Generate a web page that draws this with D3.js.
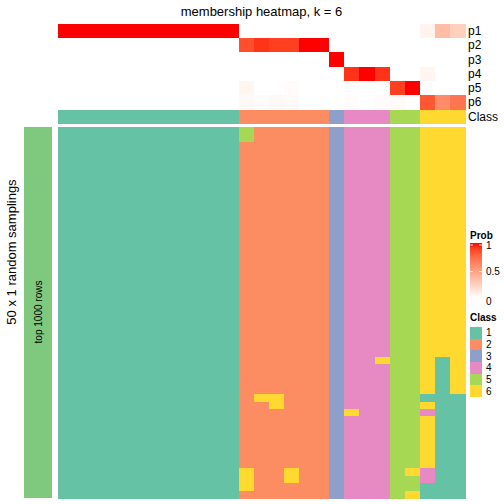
<!DOCTYPE html>
<html><head><meta charset="utf-8">
<script src="https://cdn.jsdelivr.net/npm/d3@7"></script>
<style>body{margin:0;background:#fff}svg{display:block;font-family:"Liberation Sans",Arial,sans-serif}rect{shape-rendering:crispEdges}</style>
</head><body><svg id="c" width="504" height="504"></svg>
<script>
// ---- data ----
const title = "membership heatmap, k = 6";
const probRows = ["p1","p2","p3","p4","p5","p6"];
const colClass = [1,1,1,1,1,1,1,1,1,1,1,1, 2,2,2,2,2,2, 3, 4,4,4, 5,5, 6,6,6];
const p1 = [1,1,1,1,1,1,1,1,1,1,1,1, 0,0,0,0,0,0, 0, 0,0,0, 0,0, 0.06,0.35,0.25];
const p2 = [0,0,0,0,0,0,0,0,0,0,0,0, 0.85,0.93,0.9,0.9,1,1, 0, 0,0,0, 0,0, 0,0,0];
const p3 = [0,0,0,0,0,0,0,0,0,0,0,0, 0,0,0,0,0,0, 1, 0,0,0, 0,0, 0,0,0];
const p4 = [0,0,0,0,0,0,0,0,0,0,0,0, 0,0,0,0,0,0, 0, 0.93,1,0.93, 0,0, 0.05,0,0];
const p5 = [0,0,0,0,0,0,0,0,0,0,0,0, 0.05,0,0,0.02,0,0, 0, 0,0,0, 0.9,1, 0,0,0];
const p6 = [0,0,0,0,0,0,0,0,0,0,0,0, 0.04,0.02,0.04,0.03,0,0, 0, 0.01,0,0.02, 0.03,0, 0.82,0.6,0.7];
const probs = [p1,p2,p3,p4,p5,p6];
// 50 random samplings x 27 samples (class label per cell)
const samplings = [
"111111111111522222344455666","111111111111522222344455666",
"111111111111222222344455666","111111111111222222344455666","111111111111222222344455666",
"111111111111222222344455666","111111111111222222344455666","111111111111222222344455666",
"111111111111222222344455666","111111111111222222344455666","111111111111222222344455666",
"111111111111222222344455666","111111111111222222344455666","111111111111222222344455666",
"111111111111222222344455666","111111111111222222344455666","111111111111222222344455666",
"111111111111222222344455666","111111111111222222344455666","111111111111222222344455666",
"111111111111222222344455666","111111111111222222344455666","111111111111222222344455666",
"111111111111222222344455666","111111111111222222344455666","111111111111222222344455666",
"111111111111222222344455666","111111111111222222344455666","111111111111222222344455666",
"111111111111222222344455666","111111111111222222344455666",
"111111111111222222344655616",
"111111111111222222344455616","111111111111222222344455616","111111111111222222344455616","111111111111222222344455616",
"111111111111266222344455111",
"111111111111226222344455611",
"111111111111222222364455411",
"111111111111222222344455611","111111111111222222344455611","111111111111222222344455611",
"111111111111222222344455611","111111111111222222344455611","111111111111222222344455611",
"111111111111222222344455611",
"111111111111622622344456411",
"111111111111622622344455411",
"111111111111622222344455111",
"111111111111222222344456111"
];
const classLabels = ["1","2","3","4","5","6"];
const classColors = ["#66C2A5","#FC8D62","#8DA0CB","#E78AC3","#A6D854","#FFD92F"];
const probTicks = [0, 0.5, 1];
const rowAnnoLabel = "top 1000 rows";
const leftTitle = "50 x 1 random samplings";

// ---- drawing ----
const svg = d3.select("#c");
const nCol = colClass.length;
const x = d3.scaleBand().domain(d3.range(nCol)).range([58, 465]);
const yTop = d3.scaleBand().domain(probRows).range([24, 109]);
const yMain = d3.scaleBand().domain(d3.range(samplings.length)).range([127, 498]);
const probColor = d3.scaleLinear().domain([0,1]).range(["#FFFFFF","#FF0000"]).interpolate(d3.interpolateLab);
const classColor = d3.scaleOrdinal().domain(classLabels).range(classColors);

svg.append("text").attr("x", 261.5).attr("y", 16).attr("text-anchor","middle")
  .attr("font-size", 13).text(title);

// prob rows
probRows.forEach((r, ri) => {
  svg.append("g").selectAll("rect").data(probs[ri]).join("rect")
    .attr("x", (d,i) => x(i)).attr("y", yTop(r))
    .attr("width", x.bandwidth()+0.5).attr("height", yTop.bandwidth()+0.5)
    .attr("fill", d => probColor(d));
  svg.append("text").attr("x", 468).attr("y", yTop(r) + yTop.bandwidth()/2)
    .attr("dy","0.35em").attr("font-size", 12).text(r);
});
// class row
svg.append("g").selectAll("rect").data(colClass).join("rect")
  .attr("x", (d,i) => x(i)).attr("y", 110)
  .attr("width", x.bandwidth()+0.5).attr("height", 14)
  .attr("fill", d => classColor(String(d)));
svg.append("text").attr("x", 468).attr("y", 117).attr("dy","0.35em").attr("font-size", 12).text("Class");

// main heatmap
const cells = [];
samplings.forEach((s, ri) => s.split("").forEach((c, ci) => cells.push({r: ri, c: ci, v: c})));
svg.append("g").selectAll("rect").data(cells).join("rect")
  .attr("x", d => x(d.c)).attr("y", d => yMain(d.r))
  .attr("width", x.bandwidth()+0.5).attr("height", yMain.bandwidth()+0.5)
  .attr("fill", d => classColor(d.v));

// left annotation
svg.append("rect").attr("x", 24).attr("y", 127).attr("width", 28).attr("height", 371).attr("fill", "#7FC97F");
svg.append("text").attr("transform", "translate(38,312) rotate(-90)").attr("text-anchor","middle")
  .attr("dy","0.35em").attr("font-size", 10).text(rowAnnoLabel);
svg.append("text").attr("transform", "translate(11,252) rotate(-90)").attr("text-anchor","middle")
  .attr("dy","0.35em").attr("font-size", 13).text(leftTitle);

// Prob legend
svg.append("text").attr("x", 470).attr("y", 239).attr("font-size", 10).attr("font-weight","bold").text("Prob");
const defs = svg.append("defs");
const grad = defs.append("linearGradient").attr("id","pg").attr("x1",0).attr("y1",1).attr("x2",0).attr("y2",0);
d3.range(0, 1.01, 0.1).forEach(t => grad.append("stop").attr("offset", t).attr("stop-color", probColor(t)));
svg.append("rect").attr("x", 470).attr("y", 243).attr("width", 12).attr("height", 55).attr("fill","url(#pg)");
const yLeg = d3.scaleLinear().domain([0,1]).range([298, 245]);
probTicks.forEach(t => {
  svg.append("line").attr("x1",470).attr("x2",473).attr("y1",yLeg(t)).attr("y2",yLeg(t)).attr("stroke","#fff").attr("stroke-width",0.8);
  svg.append("line").attr("x1",479).attr("x2",482).attr("y1",yLeg(t)).attr("y2",yLeg(t)).attr("stroke","#fff").attr("stroke-width",0.8);
  svg.append("text").attr("x", 486).attr("y", yLeg(t) + (t===0?3:0)).attr("dy","0.35em").attr("font-size",10).text(String(t));
});

// Class legend
svg.append("text").attr("x", 470).attr("y", 321).attr("font-size", 10).attr("font-weight","bold").text("Class");
const yCls = d3.scaleBand().domain(classLabels).range([327, 397]);
svg.append("g").selectAll("rect").data(classLabels).join("rect")
  .attr("x", 470).attr("y", d => yCls(d)).attr("width", 12).attr("height", yCls.bandwidth())
  .attr("fill", d => classColor(d));
svg.append("g").selectAll("text").data(classLabels).join("text")
  .attr("x", 486).attr("y", d => yCls(d) + yCls.bandwidth()/2).attr("dy","0.35em").attr("font-size",10).text(d => d);
</script></body></html>
